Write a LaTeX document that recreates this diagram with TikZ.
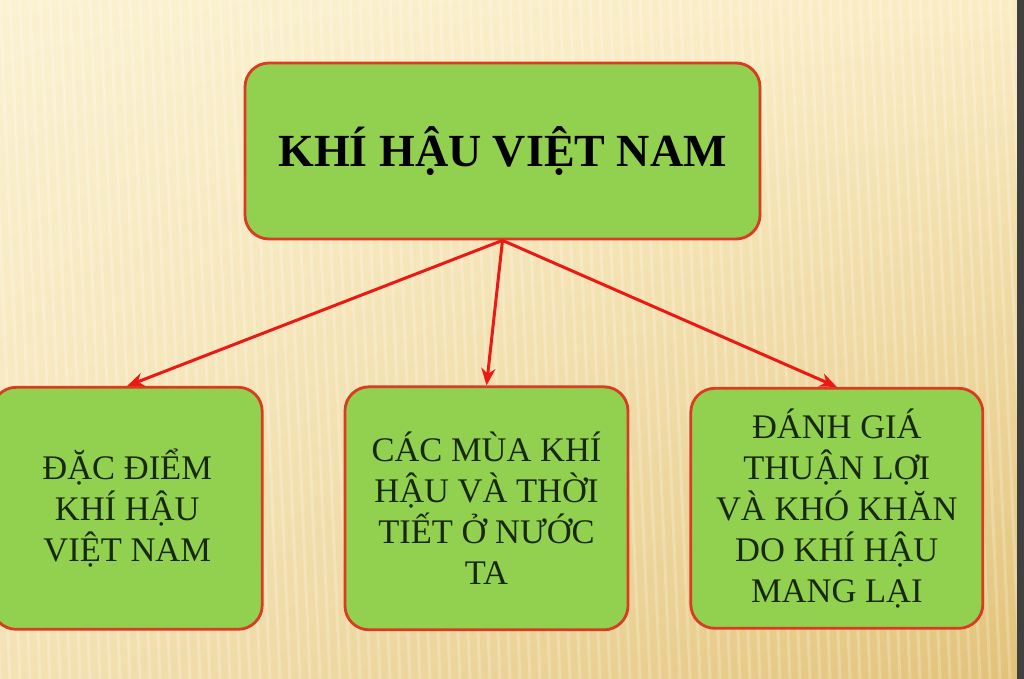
\documentclass[tikz,border=0pt]{standalone}
\usepackage{fontspec}
\setmainfont{Liberation Serif}
\usetikzlibrary{positioning,arrows.meta,shadings}
\definecolor{boxgreen}{RGB}{146,208,80}
\definecolor{boxred}{RGB}{218,60,34}
\definecolor{arrred}{RGB}{236,24,20}
\definecolor{txtdark}{RGB}{24,40,12}
\definecolor{bgul}{RGB}{251,242,210}
\definecolor{bgur}{RGB}{250,236,196}
\definecolor{bgll}{RGB}{244,226,180}
\definecolor{bglr}{RGB}{226,194,120}

\begin{document}
\begin{tikzpicture}[x=1pt,y=-1pt,
    topic/.style={draw=boxred, line width=2.8pt, fill=boxgreen, rounded corners=24pt, align=center, text=txtdark, font=\fontsize{34.5}{41}\selectfont},
    link/.style={draw=arrred, line width=3pt, -{Stealth[length=17pt,width=14pt]}}]
    % background
    \useasboundingbox (0,0) rectangle (1024,679);
    \shade[upper left=bgul, upper right=bgur, lower left=bgll, lower right=bglr] (0,0) rectangle (1024,679);
    \foreach \x in {-40,-30,...,1030}
        \draw[white, opacity=0.22, line width=3pt] (\x,0) -- (\x+30,679);
    \fill[black!75] (1017,0) rectangle (1024,679);

    \node [topic, minimum width=515pt, minimum height=176pt, text=black, font=\bfseries\fontsize{46}{52}\selectfont] (K) at (502.5,151) {KHÍ HẬU VIỆT NAM};

    \node [topic, minimum width=283pt, minimum height=243pt, below=145pt of K, xshift=-16pt] (M) {CÁC MÙA KHÍ\\HẬU VÀ THỜI\\TIẾT Ở NƯỚC\\TA};
    \node [topic, minimum width=270pt, minimum height=242pt, left=80pt of M] (L) {ĐẶC ĐIỂM\\KHÍ HẬU\\VIỆT NAM};
    \node [topic, minimum width=292pt, minimum height=240pt, right=60pt of M] (R) {ĐÁNH GIÁ\\THUẬN LỢI\\VÀ KHÓ KHĂN\\DO KHÍ HẬU\\MANG LẠI};

    \draw [link] (K.south) -- (L.north);
    \draw [link] (K.south) -- (M.north);
    \draw [link] (K.south) -- (R.north);
\end{tikzpicture}
\end{document}
